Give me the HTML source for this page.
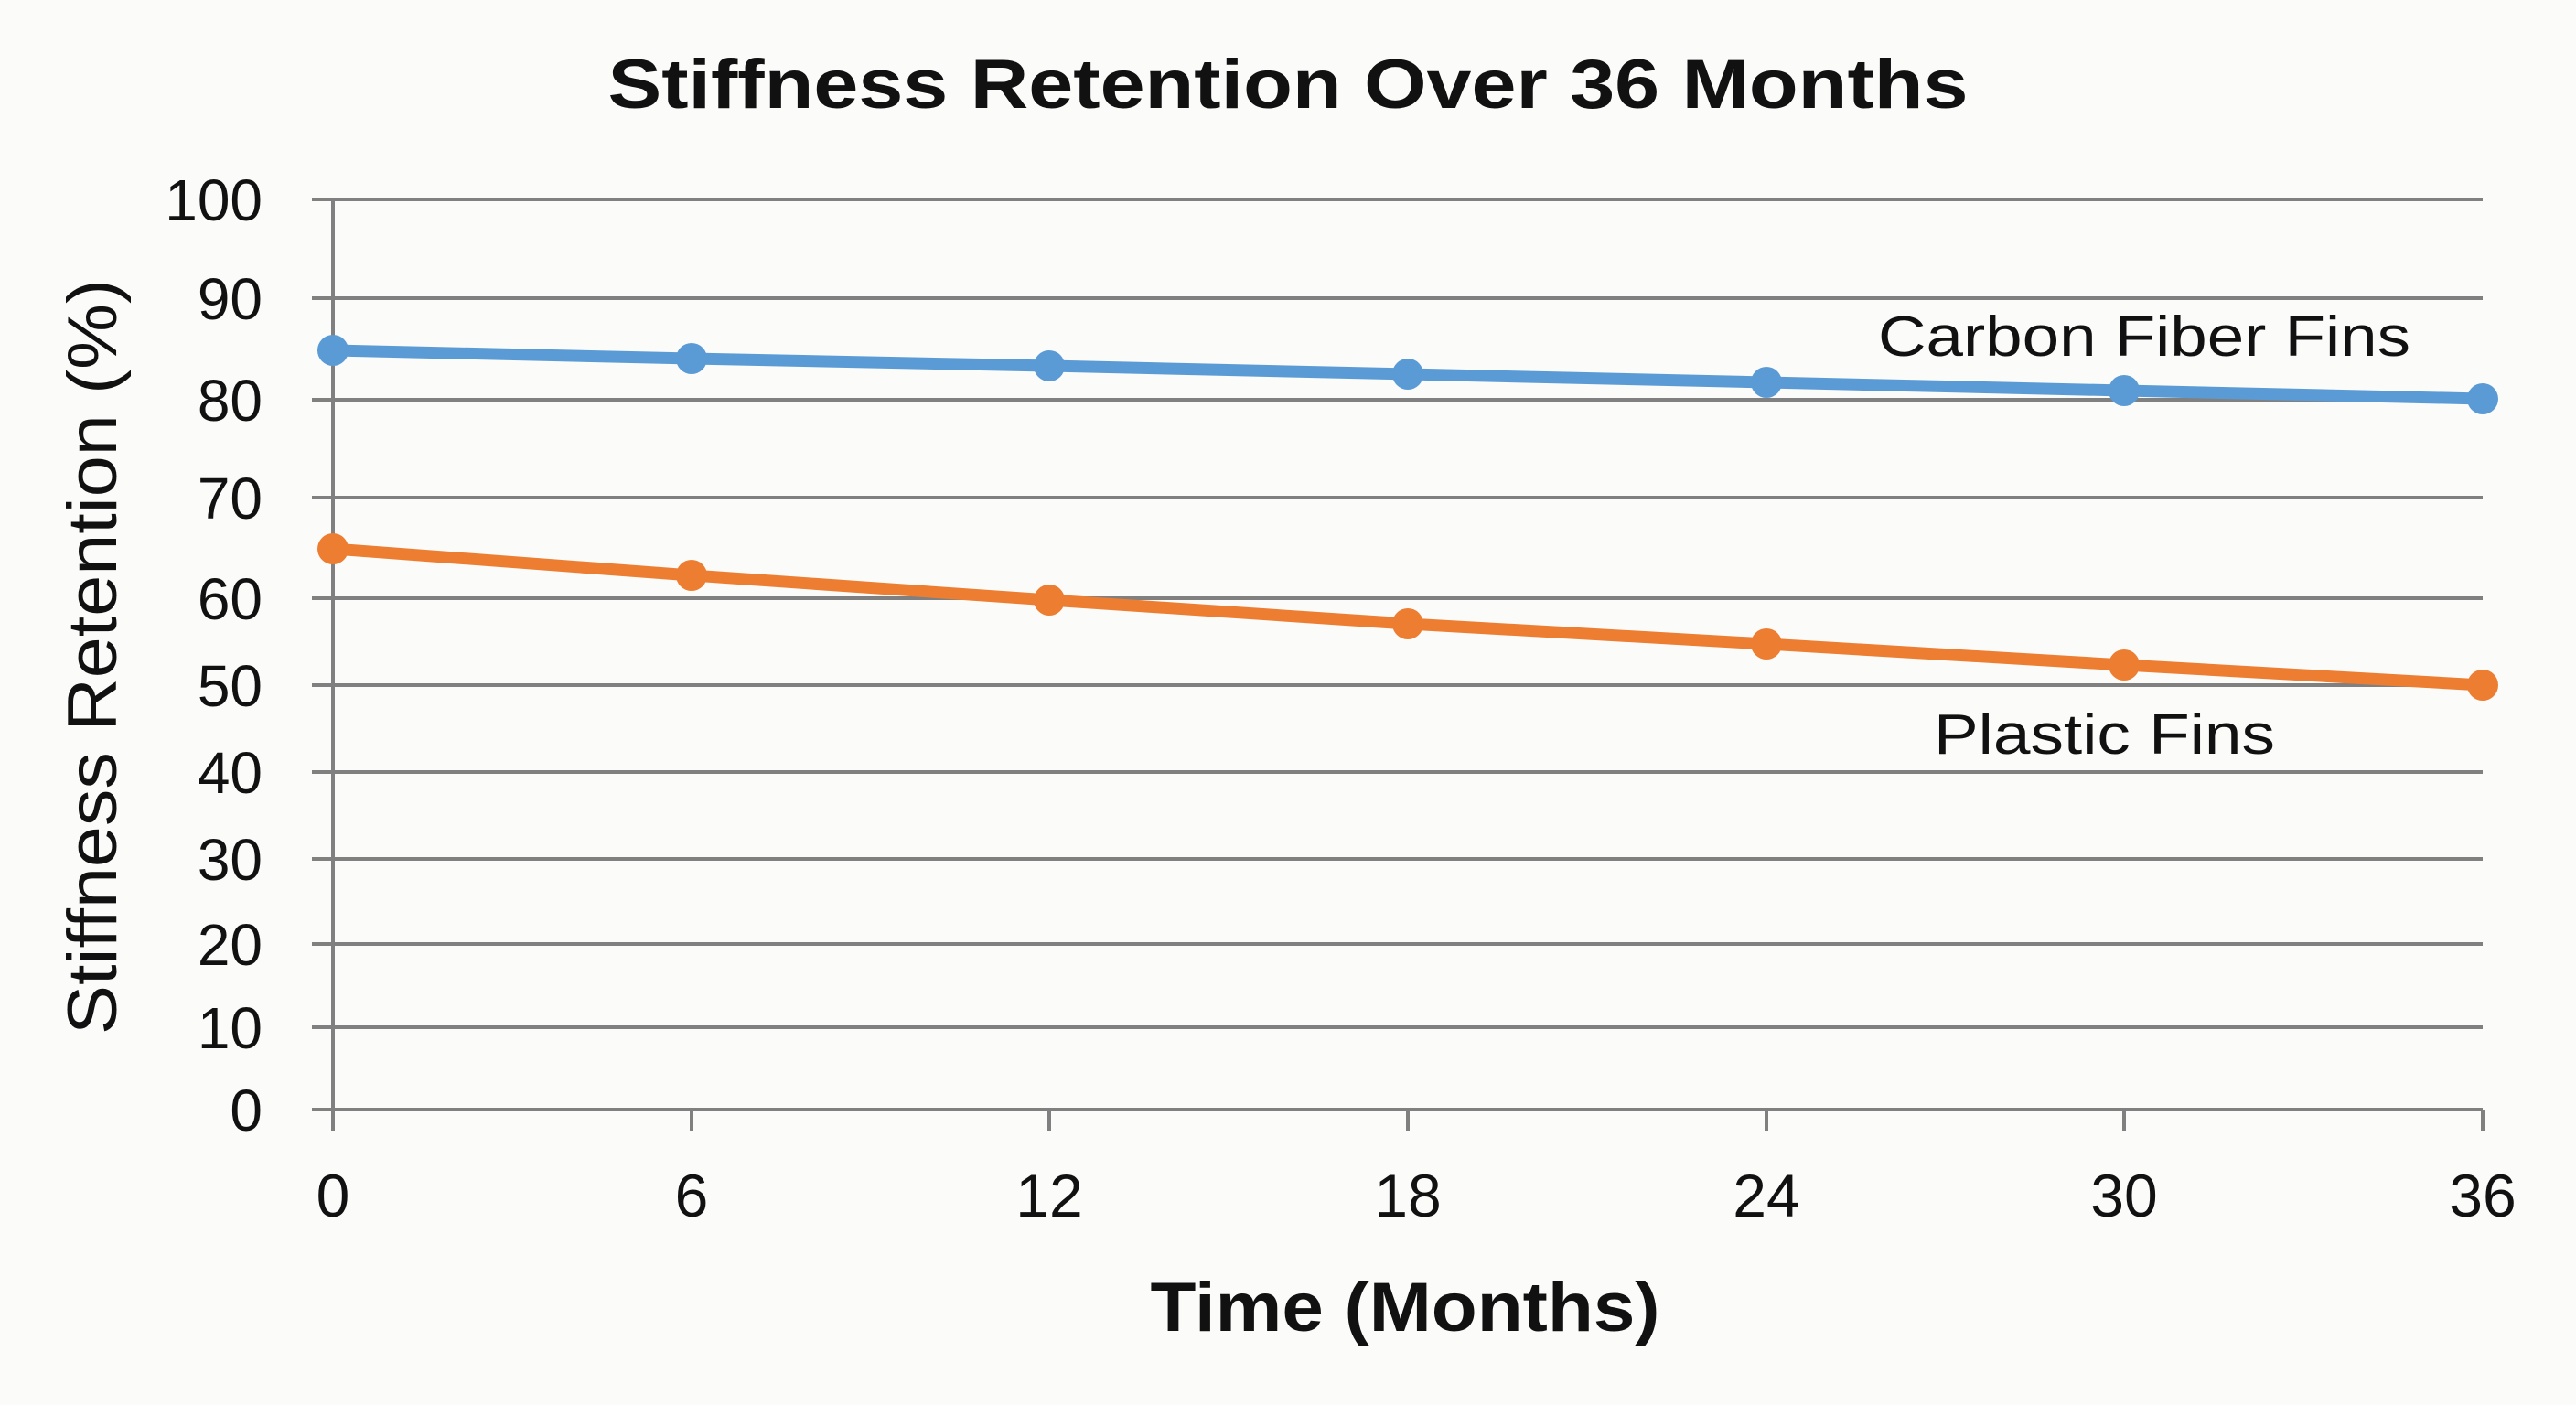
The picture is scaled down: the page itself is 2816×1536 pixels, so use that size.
<!DOCTYPE html>
<html><head><meta charset="utf-8"><style>
html,body{margin:0;padding:0;background:#fbfbfa;}
svg{display:block;}
text{font-family:"Liberation Sans",sans-serif;fill:#111;}
</style></head><body>
<svg width="2816" height="1536" viewBox="0 0 2816 1536" xmlns="http://www.w3.org/2000/svg">
<rect width="2816" height="1536" fill="#fbfbfa"/>
<text x="1408" y="118" font-size="76" font-weight="bold" text-anchor="middle" textLength="1487" lengthAdjust="spacingAndGlyphs">Stiffness Retention Over 36 Months</text>
<g stroke="#808080" stroke-width="4">
<line x1="341" y1="218" x2="2714" y2="218"/>
<line x1="341" y1="326" x2="2714" y2="326"/>
<line x1="341" y1="437" x2="2714" y2="437"/>
<line x1="341" y1="544" x2="2714" y2="544"/>
<line x1="341" y1="654" x2="2714" y2="654"/>
<line x1="341" y1="749" x2="2714" y2="749"/>
<line x1="341" y1="844" x2="2714" y2="844"/>
<line x1="341" y1="939" x2="2714" y2="939"/>
<line x1="341" y1="1032" x2="2714" y2="1032"/>
<line x1="341" y1="1123" x2="2714" y2="1123"/>
<line x1="341" y1="1213" x2="2714" y2="1213"/>
<line x1="364" y1="218" x2="364" y2="1236"/>
<line x1="756" y1="1213" x2="756" y2="1236"/>
<line x1="1147" y1="1213" x2="1147" y2="1236"/>
<line x1="1539" y1="1213" x2="1539" y2="1236"/>
<line x1="1931" y1="1213" x2="1931" y2="1236"/>
<line x1="2322" y1="1213" x2="2322" y2="1236"/>
<line x1="2714" y1="1213" x2="2714" y2="1236"/>
</g>
<g font-size="64" text-anchor="end">
<text x="287" y="241">100</text>
<text x="287" y="349">90</text>
<text x="287" y="460">80</text>
<text x="287" y="567">70</text>
<text x="287" y="677">60</text>
<text x="287" y="772">50</text>
<text x="287" y="867">40</text>
<text x="287" y="962">30</text>
<text x="287" y="1055">20</text>
<text x="287" y="1146">10</text>
<text x="287" y="1236">0</text>
</g>
<g font-size="66" text-anchor="middle">
<text x="364" y="1330">0</text>
<text x="756" y="1330">6</text>
<text x="1147" y="1330">12</text>
<text x="1539" y="1330">18</text>
<text x="1931" y="1330">24</text>
<text x="2322" y="1330">30</text>
<text x="2714" y="1330">36</text>
</g>
<text x="1536" y="1455" font-size="76" font-weight="bold" text-anchor="middle" textLength="557" lengthAdjust="spacingAndGlyphs">Time (Months)</text>
<text transform="translate(127,718) rotate(-90)" font-size="76" text-anchor="middle" textLength="826" lengthAdjust="spacingAndGlyphs">Stiffness Retention (%)</text>
<polyline fill="none" stroke="#5b9bd5" stroke-width="13" stroke-linejoin="round" points="364,383 756,392 1147,400 1539,409 1931,418 2322,427 2714,436"/>
<g fill="#5b9bd5">
<circle cx="364" cy="383" r="17"/><circle cx="756" cy="392" r="17"/><circle cx="1147" cy="400" r="17"/><circle cx="1539" cy="409" r="17"/><circle cx="1931" cy="418" r="17"/><circle cx="2322" cy="427" r="17"/><circle cx="2714" cy="436" r="17"/>
</g>
<polyline fill="none" stroke="#ed7d31" stroke-width="13" stroke-linejoin="round" points="364,600 756,629 1147,656 1539,682 1931,704 2322,727 2714,749"/>
<g fill="#ed7d31">
<circle cx="364" cy="600" r="17"/><circle cx="756" cy="629" r="17"/><circle cx="1147" cy="656" r="17"/><circle cx="1539" cy="682" r="17"/><circle cx="1931" cy="704" r="17"/><circle cx="2322" cy="727" r="17"/><circle cx="2714" cy="749" r="17"/>
</g>
<text x="2053" y="389" font-size="62" textLength="582" lengthAdjust="spacingAndGlyphs">Carbon Fiber Fins</text>
<text x="2114" y="824" font-size="62" textLength="373" lengthAdjust="spacingAndGlyphs">Plastic Fins</text>
</svg>
</body></html>
